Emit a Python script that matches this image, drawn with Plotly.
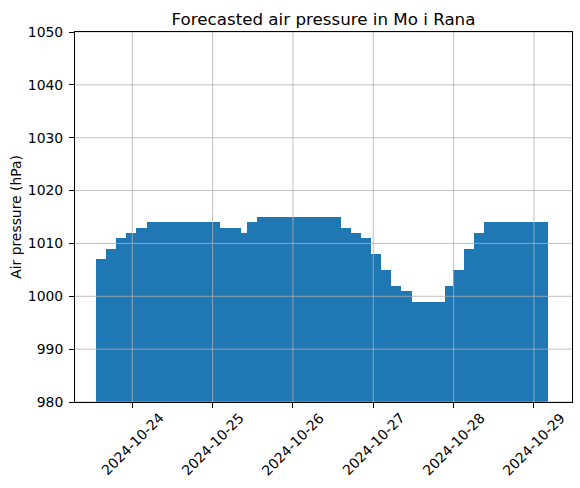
import pandas as pd
import plotly.graph_objects as go

# Step segments of the forecast (start of each step), values in hPa
seg_start = [
    "2024-10-23 13:15", "2024-10-23 16:15", "2024-10-23 19:15", "2024-10-23 22:15",
    "2024-10-24 01:15", "2024-10-24 04:15", "2024-10-25 02:20", "2024-10-25 08:25",
    "2024-10-25 10:12", "2024-10-25 13:12", "2024-10-26 14:14", "2024-10-26 17:14",
    "2024-10-26 20:13", "2024-10-26 23:13", "2024-10-27 02:13", "2024-10-27 05:12",
    "2024-10-27 08:11", "2024-10-27 11:26", "2024-10-27 21:18", "2024-10-27 23:54",
    "2024-10-28 03:08", "2024-10-28 06:07", "2024-10-28 09:07",
]
seg_end_last = "2024-10-29 04:16"
pressure = [1007, 1009, 1011, 1012, 1013, 1014, 1013, 1012, 1014, 1015, 1013, 1012,
            1011, 1008, 1005, 1002, 1001, 999, 1002, 1005, 1009, 1012, 1014]

tick_dates = ["2024-10-24", "2024-10-25", "2024-10-26", "2024-10-27", "2024-10-28", "2024-10-29"]
tick_labels = ["2024-10-24", "2024-10-25", "2024-10-26", "2024-10-27", "2024-10-28", "2024-10-29"]
y_ticks = [980, 990, 1000, 1010, 1020, 1030, 1040, 1050]

starts = pd.to_datetime(seg_start)
ends = list(starts[1:]) + [pd.Timestamp(seg_end_last)]
widths_ms = [(e - s).total_seconds() * 1000 for s, e in zip(starts, ends)]

FONT = "DejaVu Sans"
fig = go.Figure()
fig.add_trace(go.Bar(
    x=starts, y=pressure, width=widths_ms, offset=0,
    marker=dict(color="#1f77b4", line=dict(width=0)),
))

grid = dict(color="#b0b0b0", width=0.8)
shapes = []
for d in tick_dates:
    shapes.append(dict(type="line", xref="x", yref="paper", x0=d, x1=d, y0=0, y1=1,
                       line=grid, layer="above"))
for v in y_ticks:
    shapes.append(dict(type="line", xref="paper", yref="y", x0=0, x1=1, y0=v, y1=v,
                       line=grid, layer="above"))

annotations = []
for d, lab in zip(tick_dates, tick_labels):
    annotations.append(dict(x=d, xref="x", y=-0.1127, yref="paper", text=lab,
                            textangle=-45, showarrow=False, xanchor="center", yanchor="middle",
                            font=dict(family=FONT, size=13.9, color="black")))
annotations.append(dict(x=-0.119, xref="paper", y=0.5, yref="paper", text="Air pressure (hPa)",
                        textangle=-90, showarrow=False, xanchor="center", yanchor="middle",
                        font=dict(family=FONT, size=13.9, color="black")))

fig.update_layout(
    width=580, height=488,
    margin=dict(l=75, r=8, t=32, b=86),
    paper_bgcolor="white", plot_bgcolor="white",
    showlegend=False,
    bargap=0,
    title=dict(text="Forecasted air pressure in Mo i Rana", x=0.5, xanchor="center",
               xref="paper", y=1 - 19 / 488, yanchor="middle",
               font=dict(family=FONT, size=16.7, color="black")),
    xaxis=dict(type="date", range=["2024-10-23 06:53", "2024-10-29 11:22"],
               tickvals=tick_dates, showticklabels=False, ticks="outside", ticklen=5,
               tickwidth=1, tickcolor="black", showgrid=False, zeroline=False,
               showline=True, linecolor="black", linewidth=1, mirror=True),
    yaxis=dict(range=[980, 1050], tickvals=y_ticks, ticks="outside", ticklen=5,
               tickwidth=1, tickcolor="black", showgrid=False, zeroline=False,
               showline=True, linecolor="black", linewidth=1, mirror=True,
               ticklabelstandoff=3,
               tickfont=dict(family=FONT, size=13.9, color="black")),
    shapes=shapes,
    annotations=annotations,
)

fig.write_html("out.html", config={"displayModeBar": False},
               post_script="document.body.style.margin='0';document.body.style.padding='0';")
